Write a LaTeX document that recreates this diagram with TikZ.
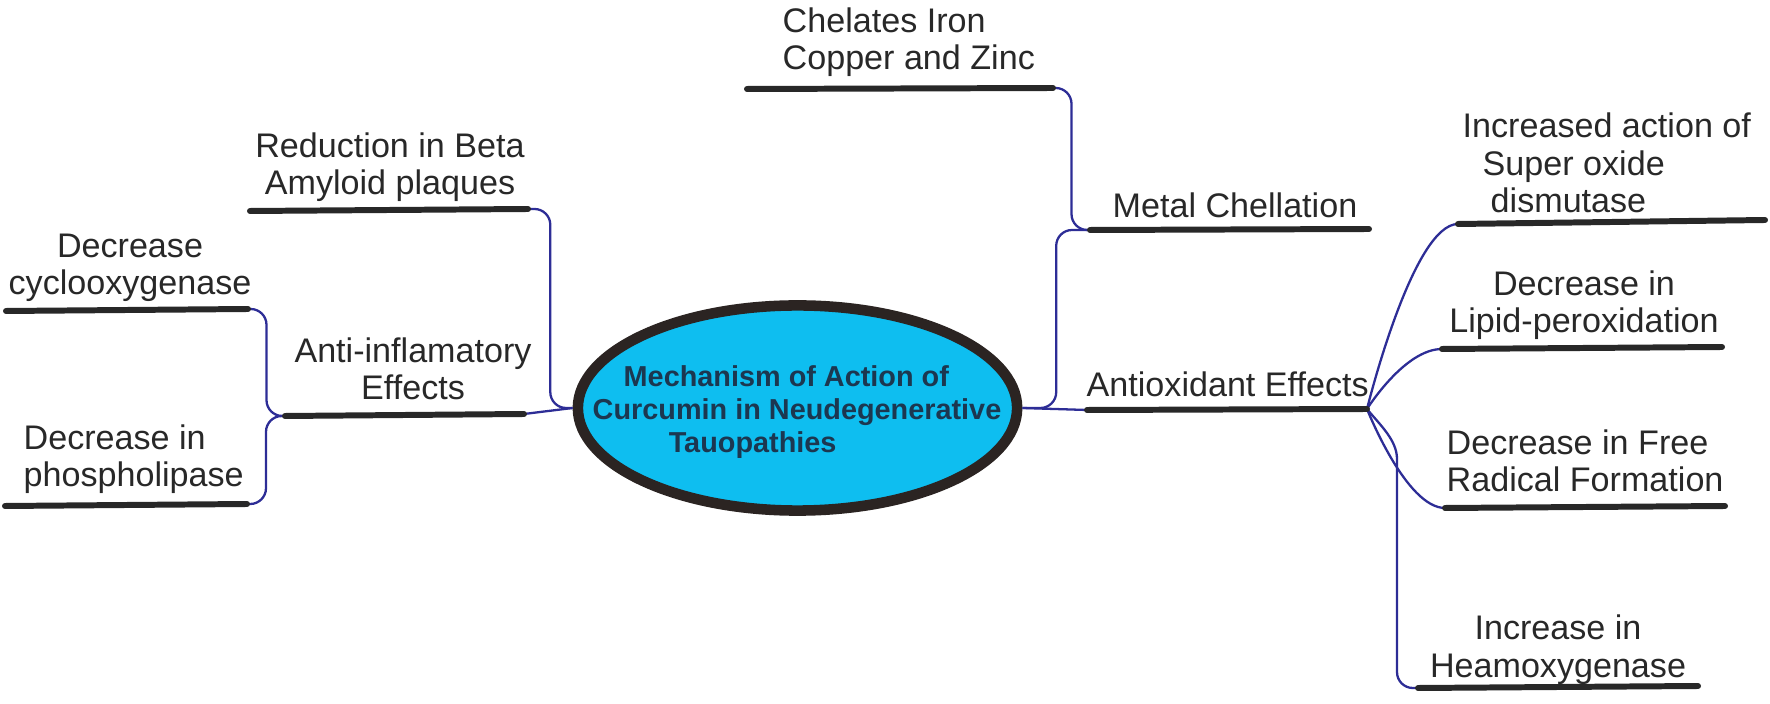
\documentclass[tikz,border=0pt]{standalone}
\usepackage{fontspec}
\setmainfont{Liberation Sans}
\usetikzlibrary{shapes.geometric,calc}

\definecolor{skyfill}{RGB}{14,190,240}
\definecolor{rimcol}{RGB}{43,36,34}
\definecolor{linkcol}{RGB}{45,45,150}
\definecolor{titlecol}{RGB}{28,55,80}
\definecolor{inkcol}{RGB}{40,40,40}

\tikzset{
  lbl/.style={inner sep=0pt, text=inkcol, font=\fontsize{9.7}{10.7}\selectfont},
  bar/.style={draw=inkcol, line width=1.7pt, line cap=round},
  link/.style={draw=linkcol, line width=0.65pt, rounded corners=4.5pt},
  twist/.style={to path={-| ($(\tikztostart)!.5!(\tikztotarget)$) |- (\tikztotarget)}},
  fork/.style={to path={.. controls (\tikztostart) and ($(\tikztotarget)!.5!(\tikztostart |- \tikztotarget)$) .. (\tikztotarget)}}
}

\begin{document}
\begin{tikzpicture}[x=0.01cm, y=-0.01cm]
\useasboundingbox (0,0) rectangle (1770,704);

% central topic
\node (core) [ellipse, draw=rimcol, fill=skyfill, line width=3pt, minimum width=4.39cm, minimum height=2.05cm, inner sep=0pt] at (797.5,408) {};
\node (title) [anchor=base west, align=left, inner sep=0pt, text=titlecol, font=\fontsize{8.2}{9.4}\selectfont\bfseries] at (592,453) {\hspace*{0.31cm}Mechanism of Action of\\Curcumin in Neudegenerative\\\hspace*{0.76cm}Tauopathies};

% underline ends
\coordinate (chelL) at (747,89);   \coordinate (chelR) at (1053,88);
\coordinate (metL) at (1090,230);  \coordinate (metR) at (1369,229);
\coordinate (oxL) at (1087,410);   \coordinate (oxR) at (1367,409);
\coordinate (sodL) at (1458,224);  \coordinate (sodR) at (1765,220);
\coordinate (lipL) at (1442,349);  \coordinate (lipR) at (1722,347);
\coordinate (freeL) at (1445,508); \coordinate (freeR) at (1725,506);
\coordinate (hemL) at (1418,688);  \coordinate (hemR) at (1698,686);
\coordinate (hemK) at (1397,475);
\coordinate (betaL) at (250,211);  \coordinate (betaR) at (528,209);
\coordinate (cycL) at (6,311);     \coordinate (cycR) at (248,309);
\coordinate (antiL) at (285,416);  \coordinate (antiR) at (524,414);
\coordinate (phosL) at (5,506);    \coordinate (phosR) at (247,504);

% connectors
\draw[link] (chelR) to[twist] (metL);
\draw[link] (metL) to[twist] (core.east);
\draw[link] (core.east) -- (oxL);
\draw[link] (oxR) to[fork] (sodL);
\draw[link] (oxR) to[fork] (lipL);
\draw[link] (oxR) to[fork] (freeL);
\draw[link] (oxR) .. controls (1380,425) and (1397,440) .. (hemK) |- (hemL);
\draw[link] (betaR) to[twist] (core.west);
\draw[link] (core.west) -- (antiR);
\draw[link] (antiL) to[twist] (cycR);
\draw[link] (antiL) to[twist] (phosR);

% underlines
\draw[bar] (chelL) -- (chelR);
\draw[bar] (metL) -- (metR);
\draw[bar] (oxL) -- (oxR);
\draw[bar] (sodL) -- (sodR);
\draw[bar] (lipL) -- (lipR);
\draw[bar] (freeL) -- (freeR);
\draw[bar] (hemL) -- (hemR);
\draw[bar] (betaL) -- (betaR);
\draw[bar] (cycL) -- (cycR);
\draw[bar] (antiL) -- (antiR);
\draw[bar] (phosL) -- (phosR);

% labels
\node (chel) [lbl, anchor=base west, align=left] at (782,70) {Chelates Iron\\Copper and Zinc};
\node (metal) [lbl, anchor=base west] at (1112,218) {Metal Chellation};
\node (antiox) [lbl, anchor=base west] at (1086,397) {Antioxidant Effects};
\node (sod) [lbl, anchor=base west, align=left] at (1462,213) {Increased action of\\\hspace*{0.2cm}Super oxide\\\hspace*{0.28cm}dismutase};
\node (lipid) [lbl, anchor=base, align=center] at (1584,333) {Decrease in\\Lipid-peroxidation};
\node (free) [lbl, anchor=base west, align=left] at (1446,492) {Decrease in Free\\Radical Formation};
\node (heam) [lbl, anchor=base, align=center] at (1558,677) {Increase in\\Heamoxygenase};
\node (beta) [lbl, anchor=base, align=center] at (390,195) {Reduction in Beta\\Amyloid plaques};
\node (cyclo) [lbl, anchor=base, align=center] at (130,295) {Decrease\\cyclooxygenase};
\node (antiinf) [lbl, anchor=base, align=center] at (413,400) {Anti-inflamatory\\Effects};
\node (phos) [lbl, anchor=base west, align=left] at (23,487) {Decrease in\\phospholipase};
\end{tikzpicture}
\end{document}
